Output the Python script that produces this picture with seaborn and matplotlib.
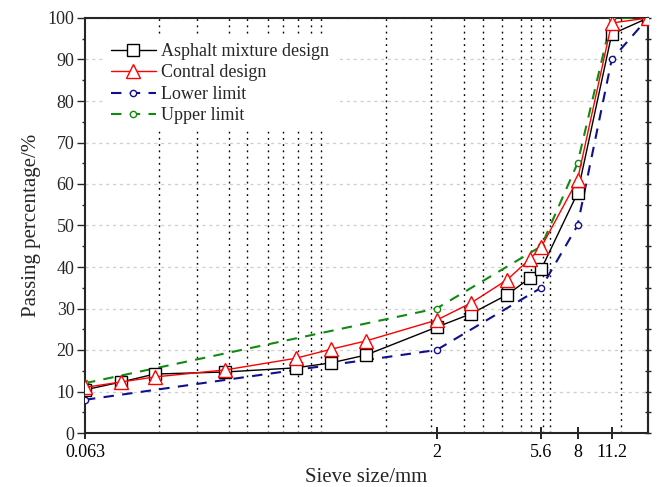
import matplotlib
matplotlib.use("Agg")
import matplotlib.pyplot as plt
import seaborn as sns
import pandas as pd
from matplotlib.ticker import MultipleLocator, NullLocator, FixedLocator

# Данные
sieve = [0.063, 0.09, 0.125, 0.25, 0.5, 0.71, 1, 2, 2.8, 4, 5, 5.6, 8, 11.2, 16]
mix_design = [10.4, 12.3, 14.2, 14.7, 15.7, 16.9, 18.8, 25.5, 28.7, 33.3, 37.3, 39.5, 57.8, 96.1, 100]
contral_design = [11.0, 12.3, 13.5, 15.2, 18.0, 20.2, 22.2, 27.2, 31.3, 36.9, 41.9, 44.8, 61.0, 98.8, 100]

limit_sieve = [0.063, 2, 5.6, 8, 11.2, 16]
lower_limit = [8, 20, 35, 50, 90, 100]
upper_limit = [12, 30, 45, 65, 100, 100]

# вертикальные пунктирные линии (мм)
guide_lines = [0.13, 0.19, 0.26, 0.31, 0.38, 0.44, 0.51, 0.58, 0.64, 1.22, 1.9,
               2.63, 3.17, 3.79, 4.6, 5.08, 5.71, 6.12, 12.27]

xticks = [0.063, 2, 5.6, 8, 11.2]
xtick_labels = ['0.063', '2', '5.6', '8', '11.2']

sns.set_style("ticks")
plt.rcParams['font.family'] = ['Liberation Serif', 'DejaVu Serif']

fig = plt.figure(figsize=(6.57, 4.87), dpi=100)
ax = fig.add_axes([85 / 657, 1 - 433 / 487, 563 / 657, 415 / 487])

for g in guide_lines:
    ax.axvline(g, color='black', linestyle=(0, (1.3, 3.2)), lw=1.0, zorder=1)

mix_df = pd.DataFrame({'size': sieve, 'mix': mix_design, 'contral': contral_design})
lim_df = pd.DataFrame({'size': limit_sieve, 'lower': lower_limit, 'upper': upper_limit})

sns.lineplot(data=mix_df, x='size', y='mix', ax=ax, color='black', lw=1.0,
             marker='s', markersize=8, markerfacecolor='white', markeredgecolor='black',
             markeredgewidth=1.0, label='Asphalt mixture design', zorder=4)
sns.lineplot(data=mix_df, x='size', y='contral', ax=ax, color='red', lw=1.0,
             marker='^', markersize=10, markerfacecolor='white', markeredgecolor='red',
             markeredgewidth=1.0, label='Contral design', zorder=5)
sns.lineplot(data=lim_df, x='size', y='lower', ax=ax, color='#10108f', lw=1.5,
             linestyle=(0, (5, 4)), marker='o', markersize=4.5, markerfacecolor='white',
             markeredgecolor='#10108f', markeredgewidth=1.0, label='Lower limit', zorder=3)
sns.lineplot(data=lim_df, x='size', y='upper', ax=ax, color='#118a11', lw=1.5,
             linestyle=(0, (5, 4)), marker='o', markersize=4.5, markerfacecolor='white',
             markeredgecolor='#118a11', markeredgewidth=1.0, label='Upper limit', zorder=3)

ax.set_xscale('log')
ax.set_xlim(0.063, 16)
ax.set_ylim(0, 100)
ax.xaxis.set_major_locator(FixedLocator(xticks))
ax.set_xticklabels(xtick_labels)
ax.xaxis.set_minor_locator(NullLocator())
ax.yaxis.set_major_locator(MultipleLocator(10))
ax.yaxis.set_minor_locator(MultipleLocator(5))

ax.yaxis.grid(True, color='#cfcfcf', linestyle=(0, (2.5, 3)), lw=0.9)
ax.set_axisbelow(True)

ax.tick_params(axis='x', which='major', direction='inout', length=8, width=1.2,
               labelsize=13, pad=4, colors='black')
ax.tick_params(axis='y', which='major', direction='out', length=5.5, width=1.0,
               labelsize=13, pad=2)
ax.tick_params(axis='y', which='minor', direction='out', length=2.5, width=1.0)

ax2 = ax.secondary_yaxis('right')
ax2.yaxis.set_major_locator(MultipleLocator(10))
ax2.yaxis.set_minor_locator(MultipleLocator(5))
ax2.tick_params(which='both', direction='inout', length=4, width=1.0, labelright=False)
ax2.spines['right'].set_linewidth(1.5)

for s in ax.spines.values():
    s.set_linewidth(1.5)
    s.set_visible(True)

ax.set_xlabel('Sieve size/mm', fontsize=15, labelpad=5)
ax.set_ylabel('Passing percentage/%', fontsize=15, labelpad=5)

leg = ax.legend(loc='upper left', bbox_to_anchor=(0.02, 0.975), fontsize=13,
                frameon=True, fancybox=False, edgecolor='white', facecolor='white',
                framealpha=1, handlelength=2.5, labelspacing=0.25, borderpad=0.3,
                handletextpad=0.3)
leg.set_zorder(10)

fig.savefig('out.png', dpi=100)
